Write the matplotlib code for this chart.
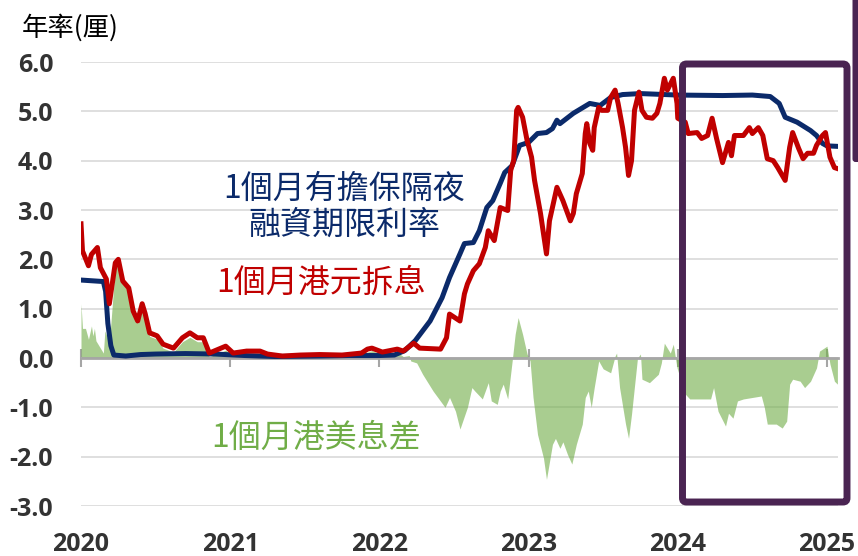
import matplotlib
matplotlib.use('Agg')
import matplotlib.pyplot as plt
import numpy as np
from matplotlib.patches import FancyBboxPatch

plt.rcParams['font.family'] = ['Noto Sans CJK TC', 'DejaVu Sans']

# 1-month HIBOR (red line), decimal years
hibor_t = [2020.00, 2020.01, 2020.05, 2020.07, 2020.11, 2020.13, 2020.17, 2020.19, 2020.23, 2020.25,
           2020.28, 2020.32, 2020.35, 2020.38, 2020.41, 2020.43, 2020.46, 2020.51, 2020.55, 2020.62,
           2020.68, 2020.73, 2020.78, 2020.82, 2020.86, 2020.97, 2021.02, 2021.11, 2021.20, 2021.25,
           2021.35, 2021.47, 2021.60, 2021.75, 2021.88, 2021.92, 2021.95, 2022.02, 2022.12, 2022.16,
           2022.23, 2022.27, 2022.41, 2022.45, 2022.47, 2022.54, 2022.57, 2022.59, 2022.63, 2022.67,
           2022.71, 2022.73, 2022.77, 2022.81, 2022.86, 2022.88, 2022.90, 2022.92, 2022.93, 2022.96,
           2022.99, 2023.02, 2023.04, 2023.08, 2023.12, 2023.14, 2023.19, 2023.23, 2023.28, 2023.30,
           2023.32, 2023.36, 2023.38, 2023.39, 2023.41, 2023.43, 2023.44, 2023.47, 2023.49, 2023.53,
           2023.55, 2023.58, 2023.60, 2023.63, 2023.65, 2023.67, 2023.69, 2023.71, 2023.74, 2023.76,
           2023.79, 2023.83, 2023.86, 2023.88, 2023.91, 2023.93, 2023.97, 2023.995, 2024.00, 2024.05,
           2024.07, 2024.13, 2024.16, 2024.20, 2024.23, 2024.26, 2024.30, 2024.34, 2024.36, 2024.38,
           2024.44, 2024.48, 2024.50, 2024.54, 2024.57, 2024.60, 2024.64, 2024.67, 2024.72, 2024.75,
           2024.77, 2024.81, 2024.84, 2024.87, 2024.91, 2024.93, 2024.97, 2024.99, 2025.02, 2025.05,
           2025.07]
hibor = [2.72, 2.17, 1.87, 2.10, 2.24, 1.83, 1.60, 1.10, 1.93, 2.00,
         1.56, 1.42, 0.95, 0.75, 1.10, 0.90, 0.51, 0.45, 0.28, 0.20,
         0.41, 0.51, 0.41, 0.41, 0.10, 0.24, 0.10, 0.14, 0.14, 0.08,
         0.04, 0.06, 0.07, 0.06, 0.10, 0.18, 0.20, 0.12, 0.18, 0.14,
         0.30, 0.20, 0.18, 0.41, 0.89, 0.75, 1.30, 1.50, 1.77, 1.91,
         2.24, 2.58, 2.38, 3.05, 2.99, 3.80, 4.00, 5.02, 5.08, 4.88,
         4.41, 4.07, 3.60, 2.93, 2.11, 2.78, 3.46, 3.19, 2.78, 2.93,
         3.33, 3.74, 4.55, 4.75, 4.35, 4.21, 4.67, 5.08, 5.02, 5.02,
         5.28, 5.43, 5.16, 4.67, 4.27, 3.70, 4.00, 5.02, 5.39, 5.02,
         4.88, 4.86, 4.96, 5.16, 5.67, 5.43, 5.67, 5.16, 4.86, 4.78,
         4.55, 4.57, 4.45, 4.51, 4.86, 4.45, 3.96, 4.37, 4.10, 4.51,
         4.51, 4.67, 4.55, 4.67, 4.51, 4.04, 4.00, 3.86, 3.60, 4.27,
         4.57, 4.25, 4.04, 4.15, 4.15, 4.31, 4.51, 4.57, 4.07, 3.86,
         3.84]

# 1-month term SOFR (navy line)
sofr_t = [2020.00, 2020.15, 2020.165, 2020.18, 2020.20, 2020.22, 2020.30, 2020.40, 2020.50, 2020.70,
          2020.90, 2021.10, 2021.30, 2021.60, 2021.80, 2022.00, 2022.10, 2022.17, 2022.24, 2022.34,
          2022.42, 2022.47, 2022.54, 2022.57, 2022.63, 2022.67, 2022.72, 2022.76, 2022.81, 2022.84,
          2022.89, 2022.94, 2023.00, 2023.06, 2023.12, 2023.16, 2023.19, 2023.21, 2023.30, 2023.41,
          2023.48, 2023.55, 2023.63, 2023.75, 2024.00, 2024.30, 2024.50, 2024.62, 2024.68, 2024.72,
          2024.80, 2024.89, 2024.93, 2024.97, 2025.00, 2025.07]
sofr = [1.58, 1.55, 1.35, 0.70, 0.25, 0.06, 0.04, 0.07, 0.08, 0.09,
        0.08, 0.05, 0.03, 0.04, 0.05, 0.05, 0.06, 0.15, 0.35, 0.75,
        1.22, 1.63, 2.11, 2.32, 2.34, 2.58, 3.05, 3.19, 3.54, 3.76,
        3.90, 4.31, 4.37, 4.55, 4.57, 4.65, 4.82, 4.75, 4.96, 5.16,
        5.12, 5.28, 5.34, 5.36, 5.33, 5.32, 5.33, 5.30, 5.16, 4.88,
        4.78, 4.61, 4.51, 4.35, 4.30, 4.29]

# HKD-USD 1-month spread (green area)
spread_t = [2020.00, 2020.01, 2020.03, 2020.05, 2020.07, 2020.08, 2020.09, 2020.10, 2020.13, 2020.15,
            2020.16, 2020.19, 2020.23, 2020.25, 2020.28, 2020.32, 2020.35, 2020.38, 2020.41, 2020.43,
            2020.46, 2020.51, 2020.55, 2020.62, 2020.68, 2020.73, 2020.78, 2020.82, 2020.86, 2020.97,
            2021.02, 2021.11, 2021.20, 2021.25, 2021.40, 2021.60, 2021.80, 2021.92, 2021.95, 2022.02,
            2022.12, 2022.16, 2022.20, 2022.21, 2022.25, 2022.29, 2022.36, 2022.44, 2022.47, 2022.51,
            2022.54, 2022.59, 2022.62, 2022.64, 2022.69, 2022.73, 2022.75, 2022.79, 2022.81, 2022.83,
            2022.86, 2022.89, 2022.91, 2022.93, 2022.96, 2022.99, 2023.01, 2023.03, 2023.06, 2023.10,
            2023.12, 2023.16, 2023.18, 2023.21, 2023.23, 2023.26, 2023.29, 2023.32, 2023.36, 2023.38,
            2023.40, 2023.42, 2023.44, 2023.47, 2023.50, 2023.55, 2023.58, 2023.59, 2023.61, 2023.65,
            2023.67, 2023.69, 2023.73, 2023.75, 2023.76, 2023.81, 2023.87, 2023.89, 2023.91, 2023.95,
            2023.97, 2023.995, 2024.05, 2024.08, 2024.15, 2024.22, 2024.24, 2024.27, 2024.32, 2024.34,
            2024.37, 2024.40, 2024.44, 2024.50, 2024.56, 2024.58, 2024.60, 2024.66, 2024.70, 2024.73,
            2024.75, 2024.77, 2024.82, 2024.85, 2024.89, 2024.93, 2024.95, 2025.00, 2025.02, 2025.05,
            2025.07]
spread = [1.10, 0.60, 0.60, 0.38, 0.65, 0.45, 0.60, 0.35, 0.20, 0.10,
          0.55, 0.30, 1.87, 1.95, 1.50, 1.37, 0.90, 0.70, 1.03, 0.83,
          0.44, 0.38, 0.20, 0.12, 0.33, 0.42, 0.33, 0.33, 0.02, 0.16,
          0.04, 0.09, 0.10, 0.05, 0.02, 0.03, 0.03, 0.12, 0.15, 0.07,
          0.12, 0.03, 0.05, -0.06, -0.10, -0.33, -0.67, -1.00, -0.80, -1.08,
          -1.44, -1.00, -0.60, -0.67, -0.83, -0.50, -0.87, -0.94, -0.67, -0.53,
          -0.83, -0.06, 0.48, 0.82, 0.48, 0.08, -0.06, -0.80, -1.55, -2.03,
          -2.46, -1.75, -1.63, -1.83, -1.70, -1.95, -2.15, -1.75, -1.34, -0.80,
          -0.67, -1.00, -0.60, -0.06, -0.22, -0.30, 0.04, 0.10, -0.60, -1.34,
          -1.63, -1.14, 0.00, 0.08, -0.43, -0.50, -0.33, -0.10, 0.30, 0.10,
          0.28, -0.20, -0.73, -0.83, -0.83, -0.83, -0.60, -1.08, -1.38, -1.12,
          -1.22, -0.87, -0.83, -0.80, -0.77, -1.00, -1.34, -1.34, -1.42, -1.28,
          -0.53, -0.43, -0.47, -0.60, -0.47, -0.20, 0.14, 0.24, -0.12, -0.47,
          -0.53]

years = [2020, 2021, 2022, 2023, 2024, 2025]
y_ticks = [-3, -2, -1, 0, 1, 2, 3, 4, 5, 6]

navy = '#0B2A6A'
red = '#C00000'
green = '#70AD47'
purple = '#4A2452'

fig = plt.figure(figsize=(8.58, 5.56), dpi=100)
ax = fig.add_axes([81 / 858, 50 / 556, 757 / 858, 444 / 556])

ax.fill_between(spread_t, spread, 0, color=green, alpha=0.6, lw=0, zorder=1)
ax.plot(sofr_t, sofr, color=navy, lw=3.6, zorder=3, solid_joinstyle='round')
ax.plot(hibor_t, hibor, color=red, lw=3.6, zorder=4, solid_joinstyle='round')

ax.set_xlim(2020, 2025.074)
ax.set_ylim(-3, 6)
ax.set_yticks(y_ticks)
ax.set_yticklabels([f'{v:.1f}' for v in y_ticks])
ax.set_xticks(years)
ax.grid(axis='y', color='#D9D9D9', lw=1.2)
ax.set_axisbelow(True)

for s in ['left', 'right', 'top']:
    ax.spines[s].set_visible(False)
ax.spines['bottom'].set_position(('data', 0))
ax.spines['bottom'].set_color('#A6A6A6')
ax.spines['bottom'].set_linewidth(2)
ax.tick_params(axis='x', direction='inout', length=13, width=1.5, color='#A6A6A6', labelbottom=False)
ax.tick_params(axis='y', length=0, pad=20, labelsize=18, labelcolor='#333333')
for lab in ax.get_yticklabels():
    lab.set_fontfamily('Open Sans')
    lab.set_fontweight('bold')

sec = ax.secondary_xaxis('bottom')
sec.set_xticks(years)
sec.set_xticklabels([str(y) for y in years])
sec.tick_params(length=0, pad=19, labelsize=18, labelcolor='#333333')
sec.spines['bottom'].set_visible(False)
for lab in sec.get_xticklabels():
    lab.set_fontfamily('Open Sans')
    lab.set_fontweight('bold')

# title and series labels
fig.text(22 / 858, 1 - 28 / 556, '年率(厘)', ha='left', va='center', fontsize=19, color='black')
fig.text(344 / 858, 1 - 207 / 556, '1個月有擔保隔夜\n融資期限利率', ha='center', va='center',
         color=navy, fontsize=23, linespacing=1.17)
fig.text(321 / 858, 1 - 283 / 556, '1個月港元拆息', ha='center', va='center', color=red, fontsize=23)
fig.text(316 / 858, 1 - 438 / 556, '1個月港美息差', ha='center', va='center', color=green, fontsize=23)

# highlight box around 2024 onward
box = FancyBboxPatch((6.825, 0.54), 1.645, 4.38, boxstyle='round,pad=0,rounding_size=0.04',
                     transform=fig.dpi_scale_trans, fill=False, ec=purple, lw=5, clip_on=False)
fig.add_artist(box)
bar = FancyBboxPatch((8.525, 3.94), 0.12, 1.8, boxstyle='round,pad=0,rounding_size=0.03',
                     transform=fig.dpi_scale_trans, fc=purple, ec='none', clip_on=False)
fig.add_artist(bar)

fig.savefig('out.png', dpi=100)
